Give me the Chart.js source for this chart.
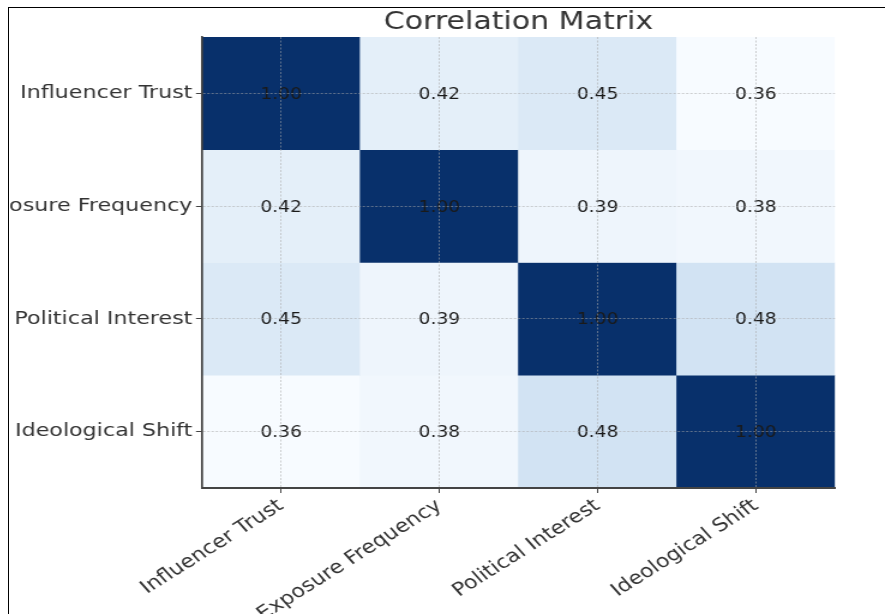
<!DOCTYPE html>
<html>
<head>
<meta charset="utf-8">
<script src="https://cdn.jsdelivr.net/npm/chart.js@4.4.1/dist/chart.umd.min.js"></script>
<style>
  html, body { margin: 0; padding: 0; background: #fff; overflow: hidden; width: 885px; height: 614px; }
  #frame { position: absolute; left: 8px; top: 7px; width: 877px; height: 607px;
           border-left: 1px solid #000; border-top: 1px solid #000; overflow: hidden; }
  #stretch { position: absolute; left: 0; top: 0; width: 730px; height: 606px;
             transform: scaleX(1.2); transform-origin: 0 0; }
</style>
</head>
<body>
<div id="frame"><div id="stretch"><canvas id="c" width="730" height="606"></canvas></div></div>
<script>
// ---- data ----
const variables = ['Influencer Trust', 'Exposure Frequency', 'Political Interest', 'Ideological Shift'];
const influencerTrust   = [1.00, 0.42, 0.45, 0.36];
const exposureFrequency = [0.42, 1.00, 0.39, 0.38];
const politicalInterest = [0.45, 0.39, 1.00, 0.48];
const ideologicalShift  = [0.36, 0.38, 0.48, 1.00];
const matrixRows = [influencerTrust, exposureFrequency, politicalInterest, ideologicalShift];
const chartTitle = 'Correlation Matrix';

// ---- Blues colormap ----
const bluesStops = ['#f7fbff','#deebf7','#c6dbef','#9ecae1','#6baed6','#4292c6','#2171b5','#08519c','#08306b'];
function hexToRgb(h) { return [1,3,5].map(i => parseInt(h.substr(i,2),16)); }
const allVals = matrixRows.flat();
const vmin = Math.min(...allVals), vmax = Math.max(...allVals);
function blues(v) {
  let t = (v - vmin) / (vmax - vmin);
  t = Math.max(0, Math.min(1, t));
  const pos = t * (bluesStops.length - 1);
  const i = Math.min(Math.floor(pos), bluesStops.length - 2);
  const f = pos - i;
  const a = hexToRgb(bluesStops[i]), b = hexToRgb(bluesStops[i+1]);
  const c = a.map((x, k) => Math.round(x + (b[k] - x) * f));
  return `rgb(${c[0]},${c[1]},${c[2]})`;
}

const datasets = matrixRows.map((row, i) => ({
  label: variables[i],
  data: row.map(() => [i - 0.5, i + 0.5]),
  backgroundColor: row.map(v => blues(v)),
  borderWidth: 0,
  barPercentage: 1,
  categoryPercentage: 1,
  grouped: false
}));

const annotate = {
  id: 'annotate',
  afterDatasetsDraw(chart) {
    const ctx = chart.ctx;
    const yScale = chart.scales.y;
    ctx.save();
    ctx.font = '15.5px "DejaVu Sans"';
    ctx.fillStyle = '#1a1a1a';
    ctx.textAlign = 'center';
    ctx.textBaseline = 'middle';
    matrixRows.forEach((row, i) => {
      const meta = chart.getDatasetMeta(i);
      meta.data.forEach((el, j) => {
        ctx.fillText(row[j].toFixed(2), el.x, yScale.getPixelForValue(i) + 1.5);
      });
    });
    ctx.restore();
  }
};

const gridCommon = {
  z: 1,
  color: 'rgba(170,170,170,0.55)',
  lineWidth: 1,
  tickColor: '#444',
  tickLength: 5,
  tickWidth: 1,
  drawOnChartArea: true,
  drawTicks: true
};

new Chart(document.getElementById('c'), {
  type: 'bar',
  data: { labels: variables, datasets },
  options: {
    responsive: false,
    animation: false,
    devicePixelRatio: 1,
    layout: { padding: { left: 0, right: 41.7, top: 0, bottom: 0 } },
    plugins: {
      legend: { display: false },
      tooltip: { enabled: false },
      title: {
        display: true,
        text: chartTitle,
        fullSize: false,
        color: '#333',
        font: { family: 'DejaVu Sans', size: 25, weight: 'normal', lineHeight: 1.16 },
        padding: { top: 0, bottom: 0 }
      }
    },
    scales: {
      x: {
        type: 'category',
        position: 'bottom',
        z: 1,
        offset: true,
        grid: Object.assign({}, gridCommon, { offset: false }),
        border: { display: true, color: '#444', width: 2, dash: [2, 1.5], z: 2 },
        ticks: {
          autoSkip: false,
          minRotation: 37,
          maxRotation: 37,
          padding: 2,
          color: '#333',
          font: { family: 'DejaVu Sans', size: 18.5 }
        },
        afterFit(s) { s.height = 126; }
      },
      y: {
        type: 'linear',
        position: 'left',
        reverse: true,
        min: -0.5,
        max: 3.5,
        z: 1,
        grid: gridCommon,
        border: { display: true, color: '#444', width: 1.7, dash: [2, 1.5], z: 2 },
        afterBuildTicks(s) { s.ticks = variables.map((_, i) => ({ value: i })); },
        ticks: {
          padding: 3,
          color: '#333',
          font: { family: 'DejaVu Sans', size: 18.5 },
          callback: (v) => variables[v] !== undefined ? variables[v] : ''
        },
        afterFit(s) { s.width = 160.8; }
      }
    }
  },
  plugins: [annotate]
});
</script>
</body>
</html>
